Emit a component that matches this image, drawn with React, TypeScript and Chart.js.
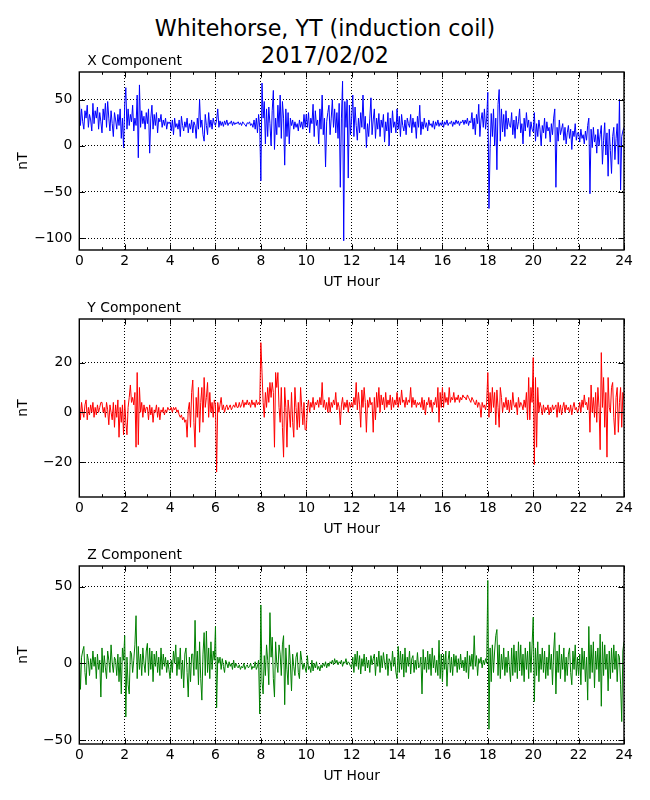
import React, { useEffect, useRef } from "react";
import { Chart, registerables } from "chart.js";

Chart.register(...registerables);

// ---------- data ----------
const SAMPLE_STEP_HOURS = 0.05; // one sample every 3 minutes, 0..24 UT
const X_TICK_STEP = 2;

// X component (nT), 20 samples per hour (one row per hour)
const X_NT = [
  52, 22, 40, 26, 18, 38, 30, 44, 20, 34, 28, 16, 46, 24, 38, 30, 42, 18, 36, 26,
  14, 40, 28, 46, 20, 48, 30, 16, 38, 24, 10, 36, 28, 18, 34, 22, 40, 8, 30, -2,
  44, 63, 18, 40, 22, 34, 26, 44, 16, 30, 22, 55, -13, 66, 20, 38, 24, 32, 18, 36,
  24, 40, -8, 30, 44, 18, 34, 22, 36, 14, 30, 26, 34, 20, 28, 22, 30, 18, 26, 24,
  26, 16, 28, 12, 30, 20, 24, 18, 28, 10, 32, 22, 16, 26, 20, 30, 14, 24, 18, 28,
  14, 26, 22, 8, 30, 18, 50, 20, 28, 12, 5, 34, 22, 12, 36, 20, 28, 18, 30, 24,
  22, 28, 40, 20, 27, 22, 26, 21, 27, 23, 28, 22, 25, 24, 27, 22, 26, 23, 25, 24,
  26, 23, 25, 22, 26, 24, 23, 21, 25, 24, 26, 22, 24, 20, 28, 18, 30, 14, 34, 20,
  -38, 68, 30, 48, 2, 40, 10, 42, 24, 0, 38, 60, -4, 30, 12, 44, 20, 55, 8, 48,
  30, -21, 40, 10, 36, 2, 30, 22, 28, 18, 26, 20, 24, 16, 28, 20, 26, 18, 34, 20,
  34, 20, 36, 14, 30, 24, 45, 10, 38, 22, 28, 2, 40, 18, 55, 12, 30, -23, 26, 36,
  44, 12, 30, 50, 20, 40, 14, 36, 8, 46, -45, 30, 70, -103, 48, 20, 50, -35, 44, 12,
  30, 55, 10, 42, 22, 6, 30, 14, 36, 20, 55, 18, 32, -2, 24, 10, 30, 52, 12, 28,
  40, 8, 30, 18, 35, 10, 28, 20, 34, 4, 26, 16, 36, 0, 30, 14, 38, 20, 26, 14,
  40, 18, 32, 10, 34, 22, 16, 28, 12, 30, 24, 20, 34, 14, 30, 20, 26, 8, 32, 20,
  44, 12, 26, 18, 30, 20, 25, 16, 28, 22, 24, 20, 27, 18, 26, 22, 28, 21, 25, 22,
  27, 20, 26, 23, 28, 22, 25, 24, 27, 21, 26, 23, 28, 24, 27, 22, 26, 25, 28, 23,
  28, 24, 30, 22, 27, 25, 36, 18, 30, 12, 34, 24, 45, 10, 28, 36, 20, 40, 18, 30,
  58, -68, -3, 35, 10, 40, 0, 30, -26, 45, 61, 5, 40, 15, 34, 10, 38, 18, 30, 22,
  20, 36, 12, 28, 8, 32, 18, 26, 40, 14, 24, 2, 30, 16, 36, 20, 28, 10, 26, 18,
  15, 36, 5, 24, 10, 28, 18, 0, 22, 14, 30, 8, 26, 16, 20, 4, 24, 12, 30, 40,
  -45, 20, 5, 28, 12, 18, 24, 6, 20, 2, 14, 22, 8, 18, -4, 16, 10, 24, 6, 14,
  14, 4, 18, 8, 12, 2, 16, 6, 22, 30, -52, 18, -2, 20, 4, 12, -8, 18, 0, 12,
  22, -20, 6, 25, -10, 14, -33, 18, -5, -30, 10, 20, -15, 8, 24, -20, 50, -48, 10, 16,
  20,
];

// Y component (nT)
const Y_NT = [
  5, -3, 4, 0, -2, 3, 5, -3, 2, -1, 3, 0, 4, -2, 2, -1, 3, 0, 2, 4,
  4, 0, 2, -2, 4, 1, -5, 3, 0, -3, 4, -6, 3, -2, 5, -10, 2, -4, 3, -9,
  5, -4, -9, 2, 6, 11, 4, 6, 3, 8, -14, 16, -13, 10, 0, 4, -2, 3, 0, 2,
  2, -3, 3, -1, 2, -4, 1, 0, 3, -2, 2, -3, 1, 0, 2, -1, 1, 0, 2, 1,
  1, 2, 0, 2, 1, 2, 0, 1, -1, -2, -1, -3, -2, -4, -3, -10, 1, 4, -6, 8,
  13, -4, -14, 6, -2, 10, -8, 4, 10, -4, 14, 2, 6, 12, -2, 8, 0, 4, -2, 5,
  3, -24, 4, 0, 3, 6, 1, 3, 0, 2, 3, 1, 2, 3, 1, 2, 3, 2, 4, 2,
  2, 4, 2, 3, 5, 2, 4, 3, 5, 3, 4, 2, 5, 3, 4, 2, 5, 3, 4, 3,
  28, 16, 4, -2, 8, 2, 10, 4, 12, 6, 12, 8, -14, 16, 10, 16, 2, -4, 10, -6,
  -18, 10, 2, -14, 5, 0, -6, 8, -4, -10, 10, 2, -7, 4, -6, 10, 2, -5, 4, -7,
  -7, 2, 5, 0, 4, 2, 6, 1, 4, 3, 5, 2, 6, 3, 12, 2, 5, 1, 4, 0,
  6, 0, 4, 2, 5, 3, 8, 1, 4, 2, -5, 3, 6, 1, 4, 2, 5, 0, 4, 2,
  4, 2, 6, 3, 12, 1, 8, 3, -6, 9, 2, 10, 4, -8, 5, 2, 6, 3, 4, -8,
  6, -3, 8, 2, 10, 0, 7, 3, 6, 1, 8, 2, 5, 3, 7, 1, 6, 2, 5, 3,
  8, 2, 6, 3, 9, 4, 5, 2, 6, 3, 5, 4, 10, 2, 6, 3, 5, 2, 4, 3,
  4, 2, 6, 1, 5, -1, 4, 3, 6, 2, 5, 0, 4, 3, 6, 2, 10, -4, 8, 2,
  10, 2, 8, 4, 6, 3, 10, 4, 6, 5, 8, 4, 6, 5, 7, 4, 6, 5, 7, 6,
  6, 5, 7, 6, 5, 4, 6, 5, 4, 3, 5, 2, 4, 3, -2, 4, 2, 3, 1, 4,
  16, -2, 8, 0, 10, 2, 8, -5, 9, 2, -6, 10, 6, 0, 4, 2, 6, 1, 5, 0,
  5, 1, 8, 3, 2, 4, -1, 6, 2, 4, 3, 1, 5, 2, 8, -3, 14, -3, 10, 4,
  22, -21, 14, -14, 10, 0, 4, 2, -1, 3, 0, 2, 1, 3, -1, 2, 0, 3, 1, 2,
  3, -2, 4, 0, 3, -1, 2, 4, 0, 3, 1, 2, 0, 3, -1, 2, 4, 1, 2, 0,
  1, 4, 0, 5, 2, 7, 3, 4, 1, 6, -8, 11, 0, 6, -2, 8, -4, 10, 2, -15,
  24, 2, 14, -6, 8, -18, 14, 2, 0, 10, 12, -2, -9, 6, 10, -8, 4, 10, -6, 8,
  5,
];

// Z component (nT)
const Z_NT = [
  12, -17, 4, 8, 11, -6, -14, 6, 2, -8, 3, -4, 8, -2, 4, -10, 6, -4, 2, -22,
  10, -6, 5, -3, -10, 8, 2, -6, 12, 0, -6, 4, 2, -8, 6, -12, 4, -20, 10, 2,
  18, -35, 4, -14, -20, 8, 6, -6, 2, 12, 31, -10, 11, -4, 6, -8, 10, 0, -6, 8,
  13, -8, 10, -4, 8, -12, 6, -2, 8, -6, 4, -8, 10, -4, 6, -2, 4, -6, 2, -4,
  -10, 2, -6, 8, 0, 12, -8, 4, -4, 10, -10, 2, -16, 6, 10, -6, -22, 4, -12, 6,
  6, -8, 28, -4, 8, -14, 14, -10, -24, 6, 20, -8, 21, -6, 10, -10, 14, -4, 8, 2,
  24, -29, 4, 0, 4, -4, 3, -2, -6, 2, 0, -3, 1, -2, 0, -4, 2, -3, 0, -2,
  -3, -1, -4, -2, -3, 0, -4, -2, -1, -3, -2, 0, -4, -2, -3, 1, -4, -2, 2, -33,
  38, -12, -20, 5, -8, 12, 2, -14, 33, 4, 17, -10, -22, 14, 0, -6, 12, 6, -8, 12,
  18, -27, 10, -4, -14, 12, 0, -18, 6, -2, -8, 4, 7, -6, -10, 8, 2, -4, 0, -3,
  -6, 5, -4, -2, -6, 2, -5, 0, -3, 1, -4, -2, -5, -1, -3, 0, -2, 1, -3, 0,
  -2, 1, 0, 2, -1, 3, 0, 2, -1, 1, 0, 2, -2, 1, 0, 3, -1, 1, 0, -2,
  -3, 4, -6, 6, -2, 8, -4, 5, -7, 3, -2, 6, -5, 4, -3, 2, -6, 5, -1, 3,
  6, -8, 4, -2, 8, -6, 5, -3, 7, 0, -4, 6, -8, 3, 1, -5, 8, -2, 4, -6,
  -10, 11, -6, 8, -4, 6, -9, 10, -6, 4, -2, 8, -7, 3, 5, -6, 2, -4, 7, -3,
  -2, 4, -20, 9, -4, 4, -6, 8, -4, 6, -8, 10, -3, 5, -6, 2, -8, 15, -10, 6,
  -12, 6, -4, 8, -15, 2, 8, -6, 4, -8, 6, -2, 5, -6, 3, -4, 6, -3, 2, -5,
  4, -6, 8, -10, 5, -2, 6, -4, 18, -2, 5, -8, 3, 0, 4, -3, 2, -1, 3, 0,
  54, -43, 10, -12, 12, -6, 8, 18, 22, -8, 12, -10, 6, -4, 10, -8, 4, -6, 8, -2,
  -12, 10, -8, 12, -6, 8, -10, 14, -5, 12, -8, 6, -12, 10, -4, 8, -10, 14, -6, 12,
  30, -25, 10, -8, 14, -12, 6, -4, 10, -6, 8, -10, 4, -8, 12, -4, 6, -14, 8, 20,
  -20, 8, -6, 12, -10, 6, -4, 10, -12, 4, -8, 6, 10, -6, -14, 8, -4, 12, -8, 4,
  -8, 6, -14, 10, -4, 8, -12, 4, -24, 24, -10, 12, -6, 14, -16, 8, -4, 10, -12, 19,
  -28, 14, -8, 12, -4, 6, -18, 8, -10, 10, -6, 12, -4, 8, -12, 6, 4, -14, -38, 8,
  14,
];

const TITLE_LINES = ["Whitehorse, YT (induction coil)", "2017/02/02"];
const X_LABEL = "UT Hour";
const Y_LABEL = "nT";

// ---------- styling / layout ----------
const FONT = "'DejaVu Sans', sans-serif";
const FS = 13.9;
const CANVAS_W = 650;
const PAD_TOP = 40;
const PLOT_H = 178;
const XAXIS_H = 50;
const CANVAS_H = PAD_TOP + PLOT_H + XAXIS_H;

type PanelSpec = {
  title: string;
  values: number[];
  color: string;
  min: number;
  max: number;
  step: number;
  canvasTop: number;
};

const PANELS: PanelSpec[] = [
  { title: "X Component", values: X_NT, color: "#0000ff", min: -113, max: 80, step: 50, canvasTop: 32 },
  { title: "Y Component", values: Y_NT, color: "#ff0000", min: -34, max: 37.5, step: 20, canvasTop: 279 },
  { title: "Z Component", values: Z_NT, color: "#008000", min: -52.6, max: 63.4, step: 50, canvasTop: 526 },
];

const fmt = (v: number | string) => {
  const n = Number(v);
  return n < 0 ? "\u2212" + Math.abs(n) : String(n);
};

const framePlugin = {
  id: "frame",
  afterDatasetsDraw(chart: any, _args: any, opts: any) {
    const { ctx, chartArea: a, scales } = chart;
    const xs = scales.x;
    const ys = scales.y;
    ctx.save();
    ctx.setLineDash([]);
    ctx.strokeStyle = "#000";
    ctx.lineWidth = 1;
    ctx.beginPath();
    const majors = xs.ticks.map((t: any) => t.value);
    const minors: number[] = [];
    for (let i = 0; i < majors.length - 1; i++) minors.push((majors[i] + majors[i + 1]) / 2);
    majors.forEach((v: number) => {
      const px = Math.round(xs.getPixelForValue(v)) + 0.5;
      ctx.moveTo(px, a.bottom);
      ctx.lineTo(px, a.bottom - 5.6);
      ctx.moveTo(px, a.top);
      ctx.lineTo(px, a.top + 5.6);
    });
    minors.forEach((v: number) => {
      const px = Math.round(xs.getPixelForValue(v)) + 0.5;
      ctx.moveTo(px, a.bottom);
      ctx.lineTo(px, a.bottom - 2.8);
      ctx.moveTo(px, a.top);
      ctx.lineTo(px, a.top + 2.8);
    });
    ys.ticks.forEach((t: any) => {
      const py = Math.round(ys.getPixelForValue(t.value)) + 0.5;
      ctx.moveTo(a.left, py);
      ctx.lineTo(a.left + 5.6, py);
      ctx.moveTo(a.right, py);
      ctx.lineTo(a.right - 5.6, py);
    });
    ctx.stroke();
    ctx.lineWidth = 1.4;
    ctx.strokeRect(a.left, a.top, a.right - a.left, a.bottom - a.top);
    ctx.fillStyle = "#000";
    ctx.font = `${FS}px ${FONT}`;
    ctx.textAlign = "left";
    ctx.textBaseline = "alphabetic";
    ctx.fillText(opts.title, a.left + 8, a.top - 7.3);
    ctx.restore();
  },
};

function Panel({ spec }: { spec: PanelSpec }) {
  const ref = useRef<HTMLCanvasElement>(null);
  useEffect(() => {
    const points = spec.values.map((v, i) => ({ x: i * SAMPLE_STEP_HOURS, y: v }));
    const font = { family: FONT, size: FS };
    const chart = new Chart(ref.current as HTMLCanvasElement, {
      type: "line",
      data: {
        datasets: [
          {
            data: points,
            borderColor: spec.color,
            backgroundColor: spec.color,
            borderWidth: 1,
            pointRadius: 0,
            fill: false,
            tension: 0,
          },
        ],
      },
      options: {
        animation: false,
        responsive: false,
        events: [],
        layout: { padding: { top: PAD_TOP, right: CANVAS_W - 624, bottom: 0, left: 0 } },
        plugins: {
          legend: { display: false },
          tooltip: { enabled: false },
          title: { display: false },
          frame: { title: spec.title },
        } as any,
        scales: {
          x: {
            type: "linear",
            min: 0,
            max: 24,
            afterFit: (s: any) => {
              s.height = XAXIS_H;
            },
            ticks: {
              stepSize: X_TICK_STEP,
              includeBounds: false,
              autoSkip: false,
              maxRotation: 0,
              padding: 3.5,
              color: "#000",
              font,
            },
            grid: { color: "#000", lineWidth: 1, drawTicks: false },
            border: { display: false, dash: [1, 2] },
            title: {
              display: true,
              text: X_LABEL,
              color: "#000",
              font,
              padding: { top: 0, bottom: 9.7 },
            },
          },
          y: {
            type: "linear",
            min: spec.min,
            max: spec.max,
            afterFit: (s: any) => {
              s.width = 79.3;
            },
            ticks: {
              stepSize: spec.step,
              includeBounds: false,
              padding: 7,
              color: "#000",
              font,
              callback: (v: any) => fmt(v),
            },
            grid: { color: "#000", lineWidth: 1, drawTicks: false },
            border: { display: false, dash: [1, 2] },
            title: {
              display: true,
              text: Y_LABEL,
              color: "#000",
              font,
              padding: { top: 15.2, bottom: 0 },
            },
          },
        },
      } as any,
      plugins: [framePlugin],
    });
    return () => chart.destroy();
  }, [spec]);
  return (
    <canvas
      ref={ref}
      width={CANVAS_W}
      height={CANVAS_H}
      style={{ position: "absolute", left: 0, top: spec.canvasTop, width: CANVAS_W, height: CANVAS_H }}
    />
  );
}

export default function App() {
  return (
    <div
      style={{
        position: "absolute",
        left: 0,
        top: 0,
        width: 650,
        height: 800,
        background: "#fff",
        overflow: "hidden",
      }}
    >
      <div
        style={{
          position: "absolute",
          left: 0,
          top: 15,
          width: 650,
          textAlign: "center",
          fontFamily: FONT,
          fontSize: 22.2,
          lineHeight: "26.6px",
          color: "#000",
        }}
      >
        {TITLE_LINES.map((t) => (
          <div key={t}>{t}</div>
        ))}
      </div>
      {PANELS.map((p) => (
        <Panel key={p.title} spec={p} />
      ))}
    </div>
  );
}
